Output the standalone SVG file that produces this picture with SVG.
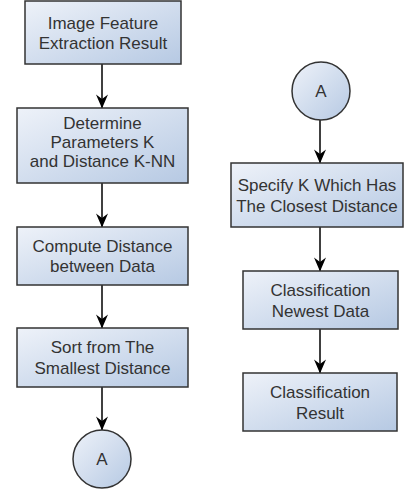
<svg xmlns="http://www.w3.org/2000/svg" width="404" height="492" viewBox="0 0 404 492">
<defs>
<linearGradient id="g" x1="0" y1="0" x2="1" y2="1">
<stop offset="0" stop-color="#eef2f9"/>
<stop offset="1" stop-color="#b6c9e3"/>
</linearGradient>
<marker id="ah" markerUnits="userSpaceOnUse" markerWidth="15" markerHeight="13" refX="14" refY="6.5" orient="auto" viewBox="0 0 15 13">
<path d="M14.5,6.5 L0.5,0.5 L5,6.5 L0.5,12.5 Z" fill="#000"/>
</marker>
<style>
.n{fill:url(#g);stroke:#333;stroke-width:1.5}
.t{font-family:"Liberation Sans",Arial,sans-serif;font-size:17px;fill:#333;text-anchor:middle}
.c{stroke:#000;stroke-width:1.5;fill:none;marker-end:url(#ah)}
</style>
</defs>
<g id="connectors">
<line class="c" x1="102" y1="64" x2="102" y2="108"/>
<line class="c" x1="102" y1="183" x2="102" y2="227"/>
<line class="c" x1="102" y1="285" x2="102" y2="328"/>
<line class="c" x1="102" y1="387" x2="102" y2="430"/>
<line class="c" x1="320" y1="120" x2="320" y2="163"/>
<line class="c" x1="320" y1="227" x2="320" y2="271"/>
<line class="c" x1="320" y1="329" x2="320" y2="373"/>
</g>
<g id="n1"><rect class="n" x="25" y="1" width="156" height="63"/>
<text class="t" x="103" y="29">Image Feature</text><text class="t" x="103" y="49">Extraction Result</text></g>
<g id="n2"><rect class="n" x="17" y="108" width="171" height="75"/>
<text class="t" x="102.5" y="129">Determine</text><text class="t" x="102.5" y="148">Parameters K</text><text class="t" x="102.5" y="167">and Distance K-NN</text></g>
<g id="n3"><rect class="n" x="17" y="227" width="171" height="58"/>
<text class="t" x="102.5" y="252">Compute Distance</text><text class="t" x="102.5" y="272">between Data</text></g>
<g id="n4"><rect class="n" x="17" y="328" width="171" height="59"/>
<text class="t" x="102.5" y="353">Sort from The</text><text class="t" x="102.5" y="374">Smallest Distance</text></g>
<g id="n5"><circle class="n" cx="102" cy="459" r="29"/>
<text class="t" x="102" y="465">A</text></g>
<g id="n6"><circle class="n" cx="321" cy="91" r="29"/>
<text class="t" x="321" y="97">A</text></g>
<g id="n7"><rect class="n" x="231" y="163" width="172" height="64"/>
<text class="t" x="317" y="191">Specify K Which Has</text><text class="t" x="317" y="212">The Closest Distance</text></g>
<g id="n8"><rect class="n" x="243" y="271" width="155" height="58"/>
<text class="t" x="320.5" y="296">Classification</text><text class="t" x="320.5" y="317">Newest Data</text></g>
<g id="n9"><rect class="n" x="243" y="373" width="154" height="58"/>
<text class="t" x="320" y="398">Classification</text><text class="t" x="320" y="419">Result</text></g>
</svg>
